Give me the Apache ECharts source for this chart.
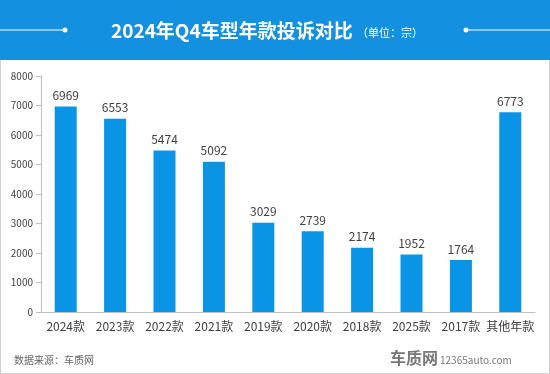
<!DOCTYPE html>
<html><head><meta charset="utf-8">
<script src="https://cdn.jsdelivr.net/npm/echarts@6/dist/echarts.min.js"></script>
<style>html,body{margin:0;padding:0;background:#fff}#c{width:550px;height:374px}</style>
</head><body><div id="c"></div>
<script>
const categories = ['2024款','2023款','2022款','2021款','2019款','2020款','2018款','2025款','2017款','其他年款'];
const values = [6969,6553,5474,5092,3029,2739,2174,1952,1764,6773];
const yTicks = [0,1000,2000,3000,4000,5000,6000,7000,8000];

const chart = echarts.init(document.getElementById('c'));
const font = "'Noto Sans CJK SC','Microsoft YaHei',sans-serif";
chart.setOption({
  animation:false,
  textStyle:{fontFamily:font},
  graphic:[
    {type:'rect',shape:{x:0.5,y:0.5,width:549,height:373},style:{fill:'#fff',stroke:'#d0d0d0',lineWidth:1},z:-10},
    {type:'rect',shape:{x:0,y:0,width:550,height:60},style:{fill:'#1390e0'},z:-5},
    {type:'line',shape:{x1:0,y1:30,x2:65,y2:30},style:{stroke:'#fff',lineWidth:1}},
    {type:'circle',shape:{cx:65,cy:30,r:2.5},style:{fill:'#fff'}},
    {type:'line',shape:{x1:466,y1:30,x2:550,y2:30},style:{stroke:'#fff',lineWidth:1}},
    {type:'circle',shape:{cx:466,cy:30,r:2.5},style:{fill:'#fff'}},
    {type:'text',x:111,y:31,style:{text:'2024年Q4车型年款投诉对比',fill:'#fff',font:"bold 19px "+font,textVerticalAlign:'middle'}},
    {type:'text',x:357,y:33,style:{text:'（单位：宗）',fill:'#fff',font:"11px "+font,textVerticalAlign:'middle'}},
    {type:'text',x:14,y:360,style:{text:'数据来源：车质网',fill:'#666',font:"10px "+font,textVerticalAlign:'middle'}},
    {type:'text',x:390,y:358,style:{text:'车质网',fill:'#777',font:"bold 16px "+font,textVerticalAlign:'middle'}},
    {type:'text',x:440,y:360,style:{text:'12365auto.com',fill:'#777',font:"10px "+font,textVerticalAlign:'middle'}}
  ],
  grid:{left:41,right:15,top:76,bottom:62,containLabel:false},
  xAxis:{type:'category',data:categories,
    axisLine:{lineStyle:{color:'#bfbfbf'}},axisTick:{show:false},
    axisLabel:{color:'#404040',fontSize:12,margin:8,interval:0}},
  yAxis:{type:'value',min:yTicks[0],max:yTicks[yTicks.length-1],interval:1000,
    splitLine:{show:false},
    axisLine:{show:true,lineStyle:{color:'#bfbfbf'}},
    axisTick:{show:true,length:5,lineStyle:{color:'#bfbfbf'}},
    axisLabel:{color:'#404040',fontSize:10,margin:8,formatter:v=>String(v)}},
  series:[{type:'bar',data:values,barWidth:22,
    itemStyle:{color:'#0a94e6'},
    label:{show:true,position:'top',color:'#404040',fontSize:12,distance:5}}]
});
</script></body></html>
